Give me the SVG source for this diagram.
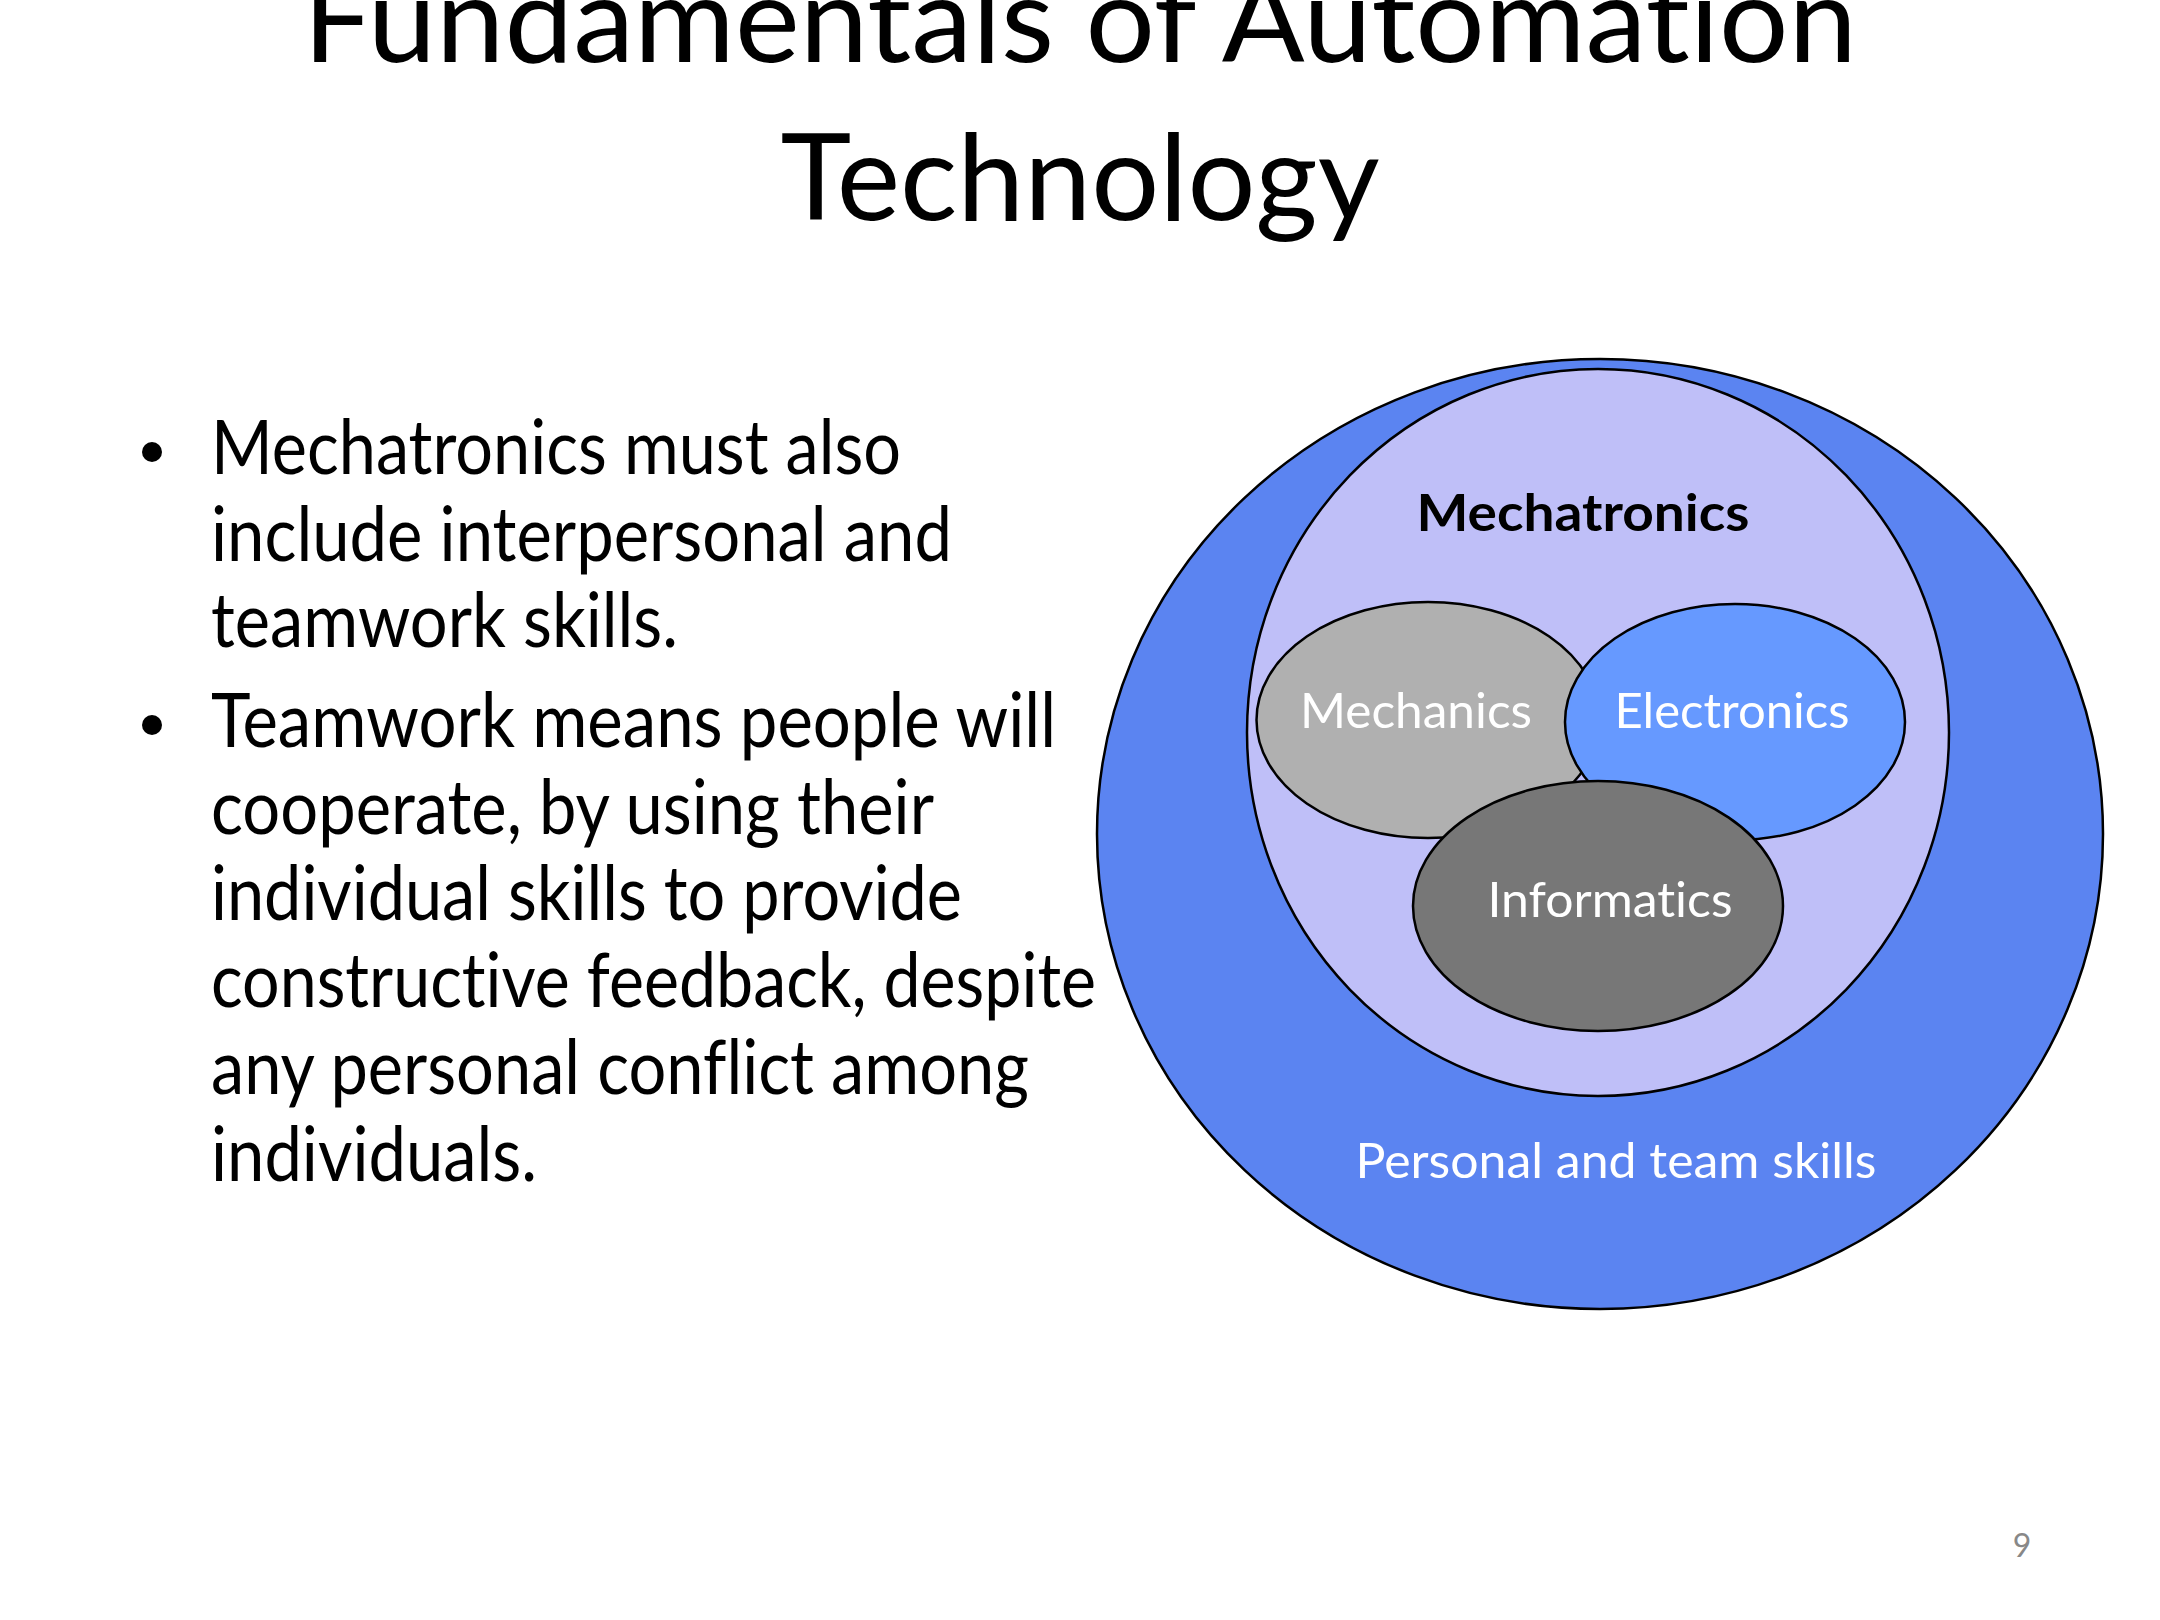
<svg xmlns="http://www.w3.org/2000/svg" width="2160" height="1620" viewBox="0 0 2160 1620">
<style>
text{font-family:Lato,"Open Sans","Liberation Sans",sans-serif;font-variant-ligatures:none}
.title{font-size:120px;fill:#000;text-anchor:middle}
.body{font-size:76px;fill:#000}
.lbl{font-size:49px;fill:#fff;text-anchor:middle}
.shape{stroke:#000;stroke-width:2.5}
</style>
<rect width="2160" height="1620" fill="#fff"/>
<g id="title">
<text class="title" x="1080" y="62" textLength="1554" lengthAdjust="spacingAndGlyphs">Fundamentals of Automation</text>
<text class="title" x="1080" y="220" textLength="599" lengthAdjust="spacingAndGlyphs">Technology</text>
</g>
<g id="bullets">
<circle cx="152" cy="452" r="10" fill="#000"/>
<circle cx="152" cy="725" r="10" fill="#000"/>
<text class="body" x="211" y="474" textLength="690" lengthAdjust="spacingAndGlyphs">Mechatronics must also</text>
<text class="body" x="211" y="561" textLength="741" lengthAdjust="spacingAndGlyphs">include interpersonal and</text>
<text class="body" x="211" y="647" textLength="467" lengthAdjust="spacingAndGlyphs">teamwork skills.</text>
<text class="body" x="211" y="747" textLength="845" lengthAdjust="spacingAndGlyphs">Teamwork means people will</text>
<text class="body" x="211" y="834" textLength="723" lengthAdjust="spacingAndGlyphs">cooperate, by using their</text>
<text class="body" x="211" y="920" textLength="751" lengthAdjust="spacingAndGlyphs">individual skills to provide</text>
<text class="body" x="211" y="1007" textLength="885" lengthAdjust="spacingAndGlyphs">constructive feedback, despite</text>
<text class="body" x="211" y="1094" textLength="818" lengthAdjust="spacingAndGlyphs">any personal conflict among</text>
<text class="body" x="211" y="1181" textLength="326" lengthAdjust="spacingAndGlyphs">individuals.</text>
</g>
<g id="personal-team-skills">
<ellipse class="shape" cx="1600" cy="834" rx="503" ry="475" fill="#5B84F1"/>
<text class="lbl" x="1616" y="1178" textLength="521" lengthAdjust="spacingAndGlyphs">Personal and team skills</text>
</g>
<g id="mechatronics">
<ellipse class="shape" cx="1598" cy="732.5" rx="351" ry="363.5" fill="#BFBFF8"/>
<text x="1583" y="531" font-size="51" font-weight="bold" text-anchor="middle" fill="#000" textLength="333" lengthAdjust="spacingAndGlyphs">Mechatronics</text>
</g>
<g id="mechanics">
<ellipse class="shape" cx="1428" cy="720" rx="171.5" ry="118" fill="#B0B0B0"/>
<text class="lbl" x="1416" y="728" textLength="232" lengthAdjust="spacingAndGlyphs">Mechanics</text>
</g>
<g id="electronics">
<ellipse class="shape" cx="1735" cy="722" rx="170" ry="118" fill="#6699FF"/>
<text class="lbl" x="1732" y="728" textLength="235" lengthAdjust="spacingAndGlyphs">Electronics</text>
</g>
<g id="informatics">
<ellipse class="shape" cx="1598" cy="906" rx="185" ry="125" fill="#777777"/>
<text class="lbl" x="1610" y="917" textLength="245" lengthAdjust="spacingAndGlyphs">Informatics</text>
</g>
<g id="connectors"></g>
<text x="2022" y="1557" font-size="32" fill="#888" text-anchor="middle">9</text>
</svg>
